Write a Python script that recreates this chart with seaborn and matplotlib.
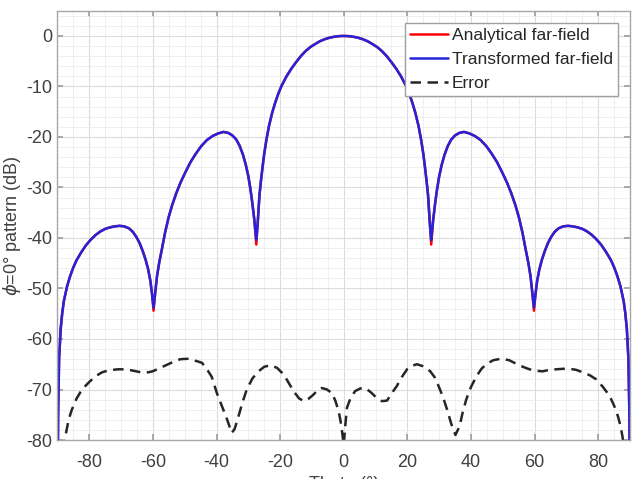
import matplotlib
matplotlib.use("Agg")
import matplotlib.pyplot as plt
import seaborn as sns
from matplotlib.ticker import MultipleLocator

sns.set_theme(style="ticks", context="notebook")
plt.rcParams['font.family'] = ['Liberation Sans', 'DejaVu Sans']
plt.rcParams['mathtext.fontset'] = 'dejavusans'
plt.rcParams['axes.unicode_minus'] = False

# pattern cut (theta in deg, level in dB)
theta_main = [
    -90.0, -89.8, -89.5, -89.0, -88.5, -88.0, -87.0, -86.0, -85.0, -84.0,
    -82.5, -81.0, -79.5, -78.0, -76.5, -75.0, -73.5, -72.0, -70.5, -69.0,
    -67.5, -66.3, -65.2, -64.2, -63.2, -62.3, -61.5, -60.8, -60.3, -59.8,
    -59.3, -58.7, -58.0, -57.2, -56.2, -55.1, -54.0, -52.7, -51.3, -49.8,
    -48.2, -46.5, -44.8, -43.0, -41.2, -39.5, -37.8, -36.3, -35.0, -33.8,
    -32.7, -31.7, -30.8, -30.0, -29.3, -28.7, -28.1, -27.5, -27.1, -26.5,
    -26.0, -25.5, -25.0, -24.3, -23.5, -22.5, -21.5, -20.5, -19.5, -18.0,
    -16.5, -15.0, -13.5, -12.0, -10.5, -9.0, -7.5, -6.0, -4.5, -3.0,
    -1.5, 0.0,
    1.5, 3.0, 4.5, 6.0, 7.5, 9.0, 10.5, 12.0, 13.5, 15.0,
    16.5, 18.0, 19.5, 20.5, 21.5, 22.5, 23.5, 24.3, 25.0, 25.5,
    26.0, 26.5, 27.1, 27.5, 28.1, 28.7, 29.3, 30.0, 30.8, 31.7,
    32.7, 33.8, 35.0, 36.3, 37.8, 39.5, 41.2, 43.0, 44.8, 46.5,
    48.2, 49.8, 51.3, 52.7, 54.0, 55.1, 56.2, 57.2, 58.0, 58.7,
    59.3, 59.8, 60.3, 60.8, 61.5, 62.3, 63.2, 64.2, 65.2, 66.3,
    67.5, 69.0, 70.5, 72.0, 73.5, 75.0, 76.5, 78.0, 79.5, 81.0,
    82.5, 84.0, 85.0, 86.0, 87.0, 88.0, 88.5, 89.0, 89.5, 89.8,
    90.0,
]
transformed_db = [
    -95.0, -75.0, -64.0, -58.0, -54.8, -52.5, -49.6, -47.5, -45.8, -44.4,
    -42.8, -41.4, -40.3, -39.4, -38.7, -38.2, -37.9, -37.7, -37.6, -37.7,
    -38.1, -38.8, -39.8, -41.0, -42.6, -44.3, -46.2, -48.5, -51.0, -53.8,
    -51.0, -47.5, -44.8, -42.3, -39.0, -36.0, -33.6, -31.2, -29.0, -27.0,
    -25.0, -23.3, -21.8, -20.6, -19.8, -19.3, -19.0, -19.2, -19.7, -20.5,
    -21.8, -23.5, -25.5, -27.8, -30.5, -33.3, -36.5, -40.4, -37.5, -31.5,
    -28.5, -25.8, -23.3, -20.5, -17.8, -15.2, -13.1, -11.3, -9.8, -8.0,
    -6.5, -5.2, -4.0, -3.0, -2.2, -1.6, -1.05, -0.65, -0.36, -0.16,
    -0.04, 0.0,
    -0.04, -0.16, -0.36, -0.65, -1.05, -1.6, -2.2, -3.0, -4.0, -5.2,
    -6.5, -8.0, -9.8, -11.3, -13.1, -15.2, -17.8, -20.5, -23.3, -25.8,
    -28.5, -31.5, -37.5, -40.4, -36.5, -33.3, -30.5, -27.8, -25.5, -23.5,
    -21.8, -20.5, -19.7, -19.2, -19.0, -19.3, -19.8, -20.6, -21.8, -23.3,
    -25.0, -27.0, -29.0, -31.2, -33.6, -36.0, -39.0, -42.3, -44.8, -47.5,
    -51.0, -53.8, -51.0, -48.5, -46.2, -44.3, -42.6, -41.0, -39.8, -38.8,
    -38.1, -37.7, -37.6, -37.7, -37.9, -38.2, -38.7, -39.4, -40.3, -41.4,
    -42.8, -44.4, -45.8, -47.5, -49.6, -52.5, -54.8, -58.0, -64.0, -75.0,
    -95.0,
]
analytical_db = [
    -95.0, -75.0, -64.0, -58.0, -54.8, -52.5, -49.6, -47.5, -45.8, -44.4,
    -42.8, -41.4, -40.3, -39.4, -38.7, -38.2, -37.9, -37.7, -37.6, -37.7,
    -38.1, -38.8, -39.8, -41.0, -42.6, -44.3, -46.2, -48.5, -51.0, -54.4,
    -51.0, -47.5, -44.8, -42.3, -39.0, -36.0, -33.6, -31.2, -29.0, -27.0,
    -25.0, -23.3, -21.8, -20.6, -19.8, -19.3, -19.0, -19.2, -19.7, -20.5,
    -21.8, -23.5, -25.5, -27.8, -30.5, -33.3, -36.5, -41.3, -37.5, -31.5,
    -28.5, -25.8, -23.3, -20.5, -17.8, -15.2, -13.1, -11.3, -9.8, -8.0,
    -6.5, -5.2, -4.0, -3.0, -2.2, -1.6, -1.05, -0.65, -0.36, -0.16,
    -0.04, 0.0,
    -0.04, -0.16, -0.36, -0.65, -1.05, -1.6, -2.2, -3.0, -4.0, -5.2,
    -6.5, -8.0, -9.8, -11.3, -13.1, -15.2, -17.8, -20.5, -23.3, -25.8,
    -28.5, -31.5, -37.5, -41.3, -36.5, -33.3, -30.5, -27.8, -25.5, -23.5,
    -21.8, -20.5, -19.7, -19.2, -19.0, -19.3, -19.8, -20.6, -21.8, -23.3,
    -25.0, -27.0, -29.0, -31.2, -33.6, -36.0, -39.0, -42.3, -44.8, -47.5,
    -51.0, -54.4, -51.0, -48.5, -46.2, -44.3, -42.6, -41.0, -39.8, -38.8,
    -38.1, -37.7, -37.6, -37.7, -37.9, -38.2, -38.7, -39.4, -40.3, -41.4,
    -42.8, -44.4, -45.8, -47.5, -49.6, -52.5, -54.8, -58.0, -64.0, -75.0,
    -95.0,
]

theta_err = [
    -88.2, -87.6, -86.5, -85.5, -84.0, -82.3, -80.0, -78.1, -76.0, -73.9,
    -71.0, -68.6, -66.0, -63.8, -61.5, -60.1, -58.0, -55.9, -53.5, -51.4,
    -48.6, -47.2, -44.6, -43.0, -41.5, -39.9, -38.3, -36.7, -35.2, -34.3,
    -33.1, -31.8, -30.5, -28.7, -26.8, -25.0, -23.1, -21.0, -18.9, -17.3,
    -15.8, -14.0, -12.4, -11.0, -9.5, -8.2, -6.9, -5.3, -3.7, -2.6,
    -1.6, -0.8, 0.0, 0.5, 1.0, 2.2, 3.6, 5.2, 6.8, 8.6,
    10.4, 12.0, 13.6, 15.0, 16.7, 18.3, 19.9, 21.5, 23.0, 25.0,
    27.2, 28.6, 29.8, 31.2, 32.5, 33.8, 35.1, 36.4, 37.4, 38.5,
    40.0, 41.7, 43.3, 44.8, 47.0, 49.5, 52.0, 54.2, 56.3, 58.4,
    60.5, 62.6, 64.7, 66.8, 69.0, 71.0, 73.0, 75.2, 77.4, 79.4,
    81.5, 83.6, 85.0, 86.2, 87.0, 87.6, 88.2,
]
error_db = [
    -82.0, -79.5, -76.0, -74.0, -71.8, -70.0, -68.5, -67.4, -66.6, -66.2,
    -66.0, -66.0, -66.3, -66.6, -66.6, -66.4, -65.8, -65.2, -64.5, -64.0,
    -63.9, -64.2, -64.7, -66.0, -67.5, -70.7, -73.3, -75.9, -78.6, -77.8,
    -75.3, -72.5, -70.0, -67.8, -66.4, -65.5, -65.2, -65.7, -67.0, -68.7,
    -70.3, -71.8, -72.3, -71.8, -71.0, -70.1, -69.7, -70.0, -70.7, -72.3,
    -74.3, -77.0, -81.0, -77.0, -73.6, -71.6, -70.3, -69.8, -69.7, -70.6,
    -71.7, -72.3, -72.2, -70.8, -69.3, -67.5, -66.0, -65.3, -65.0, -65.4,
    -66.4, -67.6, -69.3, -71.5, -74.0, -76.8, -79.0, -77.3, -74.5, -72.0,
    -69.5, -67.4, -65.9, -65.0, -64.2, -63.9, -64.2, -64.9, -65.5, -66.0,
    -66.3, -66.4, -66.1, -66.0, -65.9, -65.9, -66.1, -66.6, -67.2, -68.0,
    -69.5, -71.3, -73.2, -75.3, -77.2, -79.2, -82.0,
]

xticks = list(range(-80, 81, 20))
yticks = list(range(-80, 1, 10))

fig = plt.figure(figsize=(6.36, 4.79), dpi=100)
ax = fig.add_axes([0.0904, 0.0814, 0.9002, 0.8963])

sns.lineplot(x=theta_main, y=analytical_db, ax=ax, color="#ff0000",
             lw=1.8, label="Analytical far-field", sort=False)
sns.lineplot(x=theta_main, y=transformed_db, ax=ax, color="#2424dc",
             lw=1.8, label="Transformed far-field", sort=False)
sns.lineplot(x=theta_err, y=error_db, ax=ax, color="#262626",
             lw=1.8, label="Error", sort=False)
ax.lines[2].set_dashes((4.2, 2.6))

ax.set_xlim(-90, 90)
ax.set_ylim(-80, 5)
ax.set_xticks(xticks)
ax.set_yticks(yticks)
ax.xaxis.set_minor_locator(MultipleLocator(5))
ax.yaxis.set_minor_locator(MultipleLocator(2))
ax.set_axisbelow(True)
ax.grid(which="major", color="#dcdcdc", lw=0.8)
ax.grid(which="minor", color="#ececec", lw=0.6)

ax.tick_params(which="major", direction="in", length=4, top=True, right=True,
               labelsize=13, colors="#a0a0a0", labelcolor="#404040")
ax.tick_params(axis="x", which="major", pad=10)
ax.tick_params(axis="y", which="major", pad=4)
ax.tick_params(which="minor", length=0)
for sp in ax.spines.values():
    sp.set_color("#a6a6a6")
    sp.set_linewidth(1.0)

# the x label is partly outside the image, as in the reference
ax.set_xlabel("Theta (°)", fontsize=13, color="#404040", labelpad=4)
ax.set_ylabel(r"$\phi$=0° pattern (dB)", fontsize=13, color="#404040",
              labelpad=2)

leg = ax.legend(loc="upper right", fontsize=12.5, handlelength=2.2,
                handletextpad=0.2, labelspacing=0.5, borderpad=0.3,
                borderaxespad=0.7, fancybox=False, framealpha=1,
                edgecolor="#a0a0a0")
leg.get_frame().set_linewidth(1.0)
for t in leg.get_texts():
    t.set_color("#262626")

fig.savefig("out.png", dpi=100, facecolor="white")
